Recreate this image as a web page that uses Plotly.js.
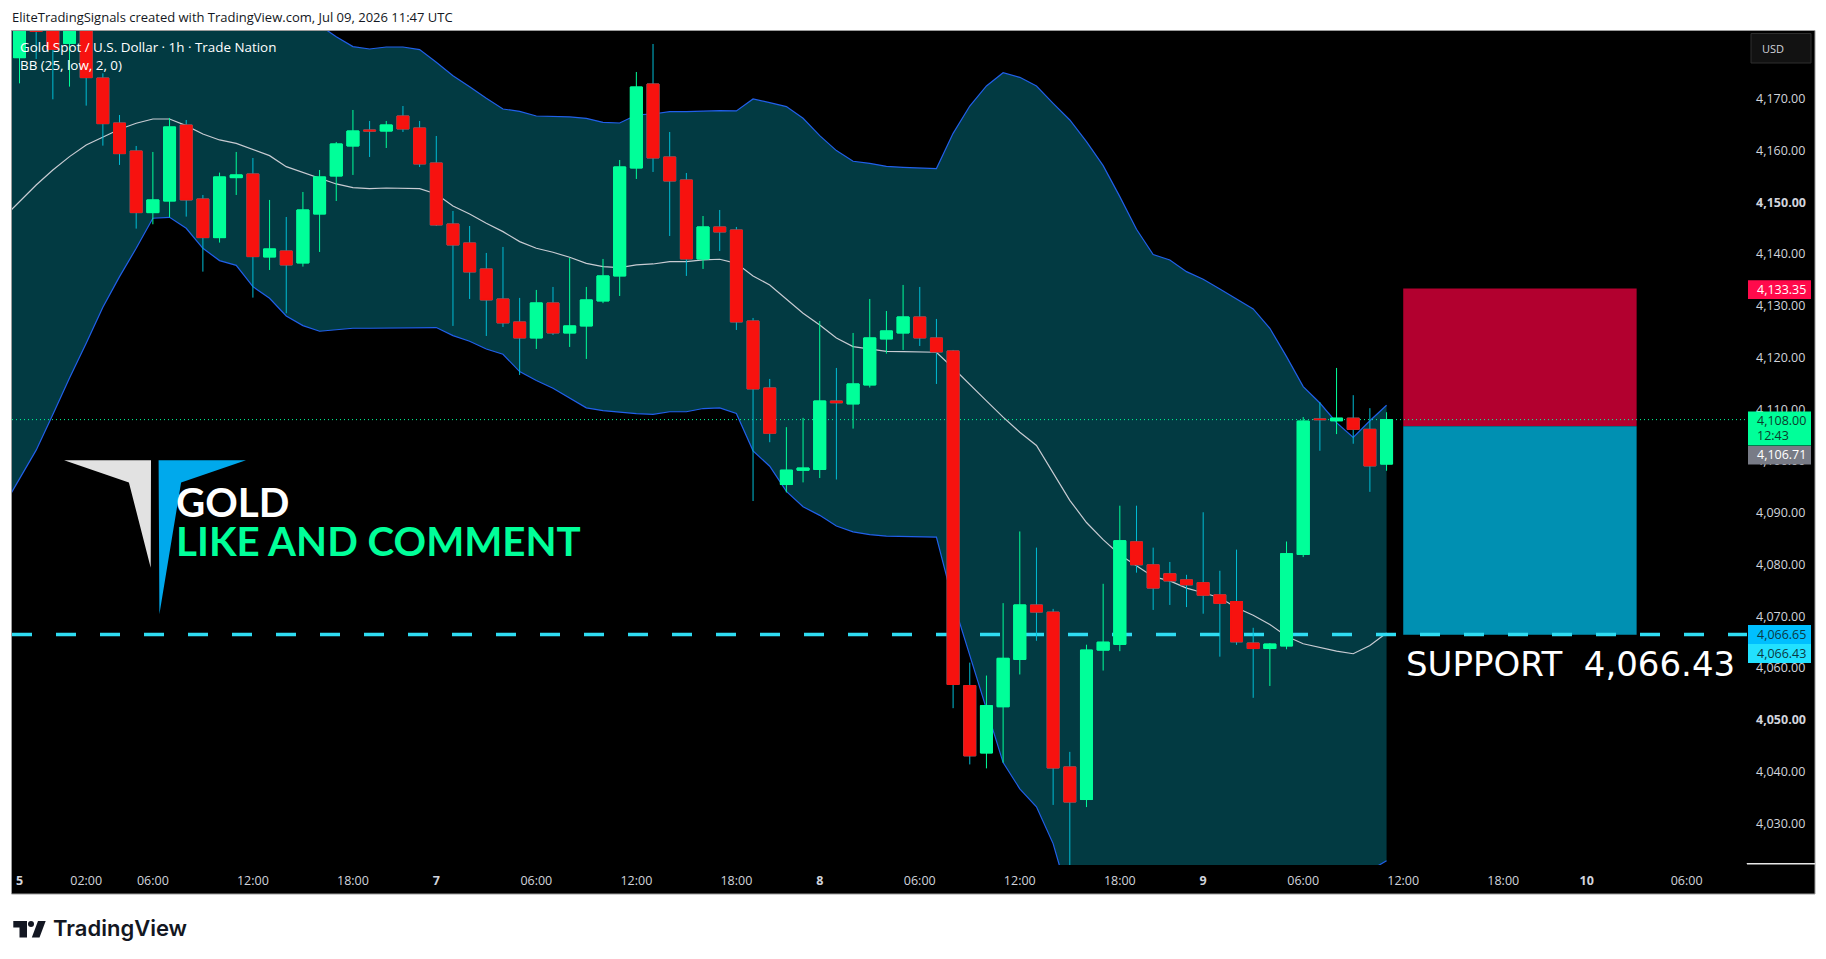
<!DOCTYPE html>
<html><head><meta charset="utf-8">
<script src="https://cdn.plot.ly/plotly-3.0.1.min.js"></script>
<style>html,body{margin:0;padding:0;background:#fff;overflow:hidden}#c{width:1826px;height:959px}</style>
</head><body><div id="c"></div>
<script>
const opens=[4177.93,4183.6,4187,4180.7,4186,4174.0,4165.31,4159.9,4147.99,4150.24,4164.92,4150.63,4143.16,4154.75,4155.46,4139.43,4140.58,4138.27,4147.73,4155.07,4160.87,4163.96,4163.76,4166.66,4164.34,4157.58,4145.8,4142.13,4137.11,4131.31,4126.87,4123.78,4130.54,4124.74,4126.1,4130.93,4135.76,4156.62,4172.84,4158.74,4154.3,4139.04,4145.22,4144.64,4127.06,4114.12,4095.46,4098.23,4098.37,4111.59,4111.04,4114.7,4123.59,4124.74,4127.83,4123.78,4121.27,4056.62,4043.6,4052.53,4061.67,4072.19,4070.81,4040.9,4034.6,4063.47,4064.58,4084.38,4079.95,4078.22,4077.04,4076.5,4074.15,4072.86,4064.84,4063.77,4064.27,4081.94,4108.14,4107.78,4108.28,4106.13,4099.41];
const closes=[4186,4183.0,4179.54,4185,4174.07,4165.18,4159.39,4147.99,4150.44,4164.54,4150.44,4143.16,4154.88,4155.27,4139.49,4140.97,4137.88,4148.5,4154.88,4161.25,4163.76,4163.76,4164.92,4164.15,4157.39,4145.61,4141.74,4136.53,4131.12,4126.68,4123.78,4130.54,4124.74,4126.1,4131.12,4135.76,4156.81,4172.26,4158.55,4154.1,4139.04,4145.22,4144.25,4126.87,4113.93,4105.36,4098.23,4098.64,4111.59,4111.25,4114.89,4123.78,4125.13,4127.83,4123.78,4121.07,4056.82,4043.04,4052.74,4061.88,4072.19,4070.81,4040.69,4034.11,4063.47,4065.0,4084.59,4079.95,4075.45,4076.83,4076.07,4074.07,4072.5,4065.06,4063.77,4064.63,4082.09,4107.71,4107.99,4108.28,4106.13,4099.05,4108.0];
const highs=[4190,4186,4189,4187,4188,4174.9,4166.85,4160.87,4159.71,4166.28,4165.89,4151.4,4155.72,4159.71,4158.55,4150.44,4147.15,4151.98,4156.23,4161.64,4167.82,4165.7,4165.7,4168.59,4165.7,4162.8,4148.31,4145.41,4140.2,4141.36,4131.51,4133.05,4133.63,4139.23,4133.63,4139.04,4158.16,4175.16,4180.57,4163.57,4155.65,4147.34,4148.5,4145.22,4127.64,4115.86,4106.54,4108.34,4127.06,4117.98,4124.74,4131.31,4128.99,4134.02,4133.63,4127.45,4121.46,4061.05,4058.55,4072.54,4086.39,4083.27,4071.43,4043.81,4064.51,4076.28,4091.37,4091.37,4083.27,4080.5,4078.01,4090.1,4078.8,4082.88,4067.78,4064.84,4084.45,4108.49,4111.36,4117.98,4112.72,4110.21,4109.42];
const lows=[4172.97,4177.67,4169.88,4172.33,4168.66,4160.93,4157.2,4144.9,4145.74,4147.09,4147.22,4136.59,4142.2,4151.4,4131.57,4136.91,4128.54,4137.56,4140.39,4150.24,4155.27,4158.74,4160.48,4163.57,4156.81,4145.41,4126.1,4131.31,4124.16,4125.9,4116.63,4121.65,4124.36,4122.04,4119.72,4130.5,4131.89,4154.49,4155.84,4143.48,4135.76,4137.11,4140.58,4125.32,4092.27,4103.63,4093.94,4095.87,4096.71,4096.43,4106.26,4114.2,4120.75,4121.46,4122.23,4114.89,4052.25,4041.38,4040.62,4041.73,4058.76,4065.27,4033.56,4020,4033.14,4059.52,4063.26,4078.43,4071.23,4072.19,4071.78,4070.5,4062.2,4064.48,4054.25,4056.54,4063.63,4081.44,4101.98,4105.2,4103.34,4094.04,4098.12];
const bbBasis=[4146.9,4150.11,4153.33,4156.23,4158.81,4161.06,4162.54,4164.09,4165.25,4166.08,4166.08,4164.8,4163.19,4162.03,4161.38,4160.22,4159.0,4156.87,4155.78,4154.62,4153.53,4152.82,4152.63,4152.75,4152.75,4152.63,4151.6,4149.28,4147.73,4145.93,4144.32,4142.39,4141.1,4140.33,4139.36,4138.2,4137.56,4137.36,4137.88,4138.07,4138.52,4138.52,4138.85,4138.98,4138.2,4135.76,4134.02,4131.31,4128.54,4126.29,4123.78,4122.1,4121.65,4121.2,4121.14,4121.07,4121.01,4117.98,4114.89,4111.61,4108.48,4105.57,4103.01,4097.61,4092.41,4088.12,4084.8,4081.89,4079.81,4077.66,4076.83,4075.45,4074.55,4073.58,4071.64,4070.21,4068.42,4066.13,4064.7,4063.98,4063.27,4062.77,4064.34,4066.77];
const bbUpper=[4203,4203.67,4204.56,4203.46,4201.57,4199.37,4195.38,4192.55,4189.4,4185.26,4185.07,4184.64,4185.28,4185.34,4184.95,4186.75,4186.56,4185.71,4185.4,4184.17,4181.99,4180.06,4179.6,4179.99,4179.99,4179.48,4177.03,4174.45,4172.33,4170.07,4168.01,4167.56,4166.66,4166.6,4166.47,4166.21,4165.44,4165.31,4166.85,4167.05,4167.5,4167.5,4167.63,4167.69,4167.63,4169.95,4169.24,4168.47,4166.21,4162.86,4159.97,4157.91,4157.52,4156.94,4156.75,4156.55,4156.49,4163.31,4168.59,4172.46,4175.03,4174.13,4172.46,4169.11,4165.89,4161.71,4157.07,4151.08,4144.77,4139.88,4138.85,4136.59,4135.11,4133.24,4131.31,4129.38,4125.65,4120.17,4114.38,4111.21,4107.42,4104.56,4107.78,4110.78];
const bbLower=[4091,4096.55,4102.1,4109.0,4116.05,4122.75,4129.7,4135.63,4141.1,4146.9,4147.09,4144.96,4141.1,4138.72,4137.81,4133.69,4131.44,4128.03,4126.16,4125.07,4125.33,4125.65,4125.65,4125.71,4125.71,4125.71,4125.78,4124.23,4123.13,4121.65,4120.62,4117.28,4115.54,4114.05,4112.12,4110.28,4109.72,4109.38,4109.17,4109.03,4109.52,4109.52,4110.14,4110.28,4109.17,4101.97,4098.99,4094.14,4091.17,4089.5,4087.43,4086.32,4085.77,4085.49,4085.42,4085.35,4085.28,4072.82,4062.29,4051.77,4041.73,4036.67,4033.21,4026.08,4014.9,4014.53,4012.53,4012.7,4014.85,4015.44,4014.81,4014.31,4013.99,4013.92,4011.97,4011.04,4011.19,4012.09,4015.02,4016.75,4019.12,4020.98,4020.9,4022.76];
const priceTicks=[4030,4040,4050,4060,4070,4080,4090,4100,4110,4120,4130,4140,4150,4160,4170];
const priceTickText=['4,030.00','4,040.00','<b>4,050.00</b>','4,060.00','4,070.00','4,080.00','4,090.00','4,100.00','4,110.00','4,120.00','4,130.00','4,140.00','<b>4,150.00</b>','4,160.00','4,170.00'];
const timeTicks=[0,4,8,14,20,25,31,37,43,48,54,60,66,71,77,83,89,94,100];
const timeTickText=['<b>5</b>','02:00','06:00','12:00','18:00','<b>7</b>','06:00','12:00','18:00','<b>8</b>','06:00','12:00','18:00','<b>9</b>','06:00','12:00','18:00','<b>10</b>','06:00'];
const supportLevel=4066.5, lastPrice=4108.0, stopLevel=4133.35, entryLevel=4106.71, targetLevel=4066.43, boxStart=83, boxEnd=97;

const L=12,R=1747,T=31,B=865;
const px=v=>(v-L)/(R-L), py=v=>(B-v)/(B-T);
const xRange=[-0.45,103.62];
const idx=opens.map((_,i)=>i);
const bandX=bbBasis.map((_,i)=>i-1);
const GREEN='#00ff99',RED='#f7120f',CY='#00bcd4',BLUE='#2160ea';
const pxRect=(x0,y0,x1,y1,fill,line,layer)=>({type:'rect',xref:'paper',yref:'paper',x0:px(x0),x1:px(x1),y0:py(y0),y1:py(y1),fillcolor:fill,line:line?{color:line,width:1}:{width:0},layer:layer||'above'});
const pxPoly=(pts,fill)=>({type:'path',xref:'paper',yref:'paper',path:'M'+pts.map(p=>px(p[0])+','+py(p[1])).join(' L')+' Z',fillcolor:fill,line:{width:0},layer:'above'});
const ann=(text,x,y,size,color,family,weight)=>({text,xref:'paper',yref:'paper',x:px(x),y:py(y),xanchor:'left',yanchor:'middle',showarrow:false,borderpad:0,font:{size,color,family,weight:weight||400}});

const UI='"Open Sans",sans-serif';
const traces=[
 {type:'scatter',mode:'lines',x:bandX,y:bbUpper,line:{color:BLUE,width:1.2},zorder:0},
 {type:'scatter',mode:'lines',x:bandX,y:bbLower,line:{color:BLUE,width:1.2},fill:'tonexty',fillcolor:'#023a42',zorder:0},
 {type:'scatter',mode:'lines',x:bandX,y:bbBasis,line:{color:'#c8cbd2',width:1.2},zorder:0},
 {type:'scatter',mode:'lines',x:xRange,y:[supportLevel,supportLevel],line:{color:'#2fdcf2',width:3.5,dash:'20px,24px'},zorder:0},
 {type:'scatter',mode:'lines',x:xRange,y:[lastPrice,lastPrice],line:{color:GREEN,width:1,dash:'1px,3px'},zorder:0},
 {type:'candlestick',x:idx,open:opens,high:highs,low:lows,close:closes,whiskerwidth:0,zorder:1,
  increasing:{line:{color:GREEN,width:1},fillcolor:GREEN},decreasing:{line:{color:CY,width:1},fillcolor:RED}},
 {type:'candlestick',x:idx,open:opens,close:closes,zorder:1,
  high:idx.map(i=>Math.max(opens[i],closes[i])),low:idx.map(i=>Math.min(opens[i],closes[i])),whiskerwidth:0,
  increasing:{line:{color:GREEN,width:1},fillcolor:GREEN},decreasing:{line:{color:RED,width:1},fillcolor:RED}}
];
const shapes=[
 pxRect(11.5,30.5,1815,894,'#000','#9c9c9c','below'),
 {type:'rect',xref:'x',yref:'y',x0:boxStart,x1:boxEnd,y0:entryLevel,y1:stopLevel,fillcolor:'#b2002f',line:{width:0},layer:'below'},
 {type:'rect',xref:'x',yref:'y',x0:boxStart,x1:boxEnd,y0:targetLevel,y1:entryLevel,fillcolor:'#0090b2',line:{width:0},layer:'below'},
 pxRect(1747,863.5,1815,864,'#fff','#e8e8e8'),
 pxRect(1751,33.5,1811,63,'#121212','#2e2e2e'),
 pxRect(1748,280.3,1811,299,'#ff0a4b'),
 pxRect(1748,411.5,1811,445.5,'#00ff99'),
 pxRect(1748,446,1811,464.4,'#787b86'),
 pxRect(1748,625,1811,644,'#00bfff'),
 pxRect(1748,644,1811,663,'#22e1ff'),
 pxPoly([[64.1,460.2],[151,460.2],[150.7,567.7],[128.9,482.4]],'#e2e2e2'),
 pxPoly([[158.6,460.2],[246,460.2],[181.1,482.4],[159.4,614.3]],'#00a9ec'),
 pxPoly([[13.3,921],[27,921],[27,937.5],[19.5,937.5],[19.5,927.5],[13.3,927.5]],'#131722'),
 pxPoly([[38,921],[45.7,921],[39.5,937.5],[31.8,937.5]],'#131722'),
 {type:'circle',xref:'paper',yref:'paper',x0:px(28),x1:px(34),y0:py(921),y1:py(927),fillcolor:'#131722',line:{width:0}}
];
const annotations=[
 ann('EliteTradingSignals created with TradingView.com, Jul 09, 2026 11:47 UTC',10.5,16.5,13,'#131722',UI),
 ann('Gold Spot / U.S. Dollar · 1h · Trade Nation',19,46.5,13.4,'#ffffff',UI),
 ann('BB (25, low, 2, 0)',19,65.5,13.4,'#ffffff',UI),
 ann('USD',1761,48.5,11,'#d1d4dc',UI),
 ann('4,133.35',1756,289.6,12.5,'#ffffff',UI),
 ann('4,108.00',1756,420,12.5,'#0b3d2c',UI),
 ann('12:43',1756,435.5,12.5,'#0b3d2c',UI),
 ann('4,106.71',1756,455,12.5,'#ffffff',UI),
 ann('4,066.65',1756,634.5,12.5,'#0a3a44',UI),
 ann('4,066.43',1756,653.5,12.5,'#0a3a44',UI),
 ann('GOLD',175,501,40.3,'#ffffff','Lato,sans-serif',700),
 ann('LIKE AND COMMENT',175,540,40.3,'#00ff99','Lato,sans-serif',700),
 ann('SUPPORT\u00a0\u00a04,066.43',1404.5,664,34,'#ffffff','"DejaVu Sans",sans-serif'),
 ann('TradingView',52,927.5,22,'#131722','Inter,sans-serif',600)
];
const layout={
 width:1826,height:959,autosize:false,margin:{l:L,r:1826-R,t:T,b:959-B,pad:0},
 paper_bgcolor:'#ffffff',plot_bgcolor:'#000000',showlegend:false,hovermode:false,dragmode:false,
 boxmode:'overlay',boxgap:0.28,boxgroupgap:0,
 xaxis:{type:'linear',range:xRange,tickmode:'array',tickvals:timeTicks,ticktext:timeTickText,showgrid:false,zeroline:false,
   ticks:'',tickangle:0,ticklabelstandoff:6,tickfont:{family:UI,size:12.5,color:'#d1d4dc'},rangeslider:{visible:false},showline:false},
 yaxis:{type:'linear',side:'right',range:[4021.95,4183.08],tickmode:'array',tickvals:priceTicks,ticktext:priceTickText,showgrid:false,zeroline:false,
   ticks:'',ticklabelstandoff:8,tickfont:{family:UI,size:12.5,color:'#d1d4dc'},showline:false},
 shapes,annotations
};
Plotly.newPlot('c',traces,layout,{displayModeBar:false,staticPlot:true});
</script></body></html>
